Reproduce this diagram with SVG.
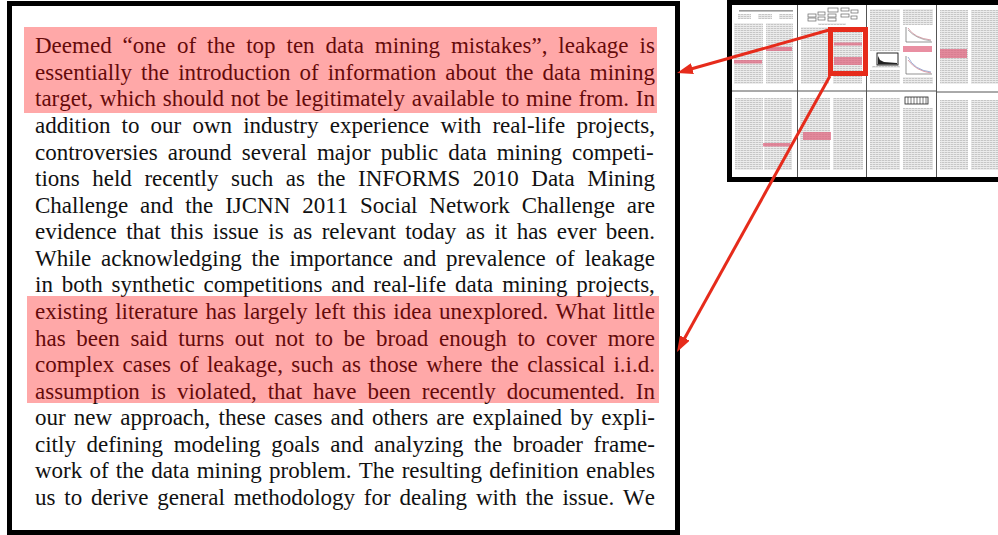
<svg xmlns="http://www.w3.org/2000/svg" width="998" height="535" viewBox="0 0 998 535">
<style>
.t{font-family:"Liberation Serif","Times New Roman",serif;font-size:23px;fill:#111;font-kerning:none;}
.hl{fill:#ff0000;fill-opacity:0.34;}
.frame{fill:none;stroke:#000;stroke-width:5;}
.txt{fill:url(#lines);}
.pk{fill:#e0607a;fill-opacity:0.7;}
.div{stroke:#555;stroke-width:1;}
.fig{fill:none;stroke:#666;stroke-width:0.7;}
.arrow{stroke:#e62b1b;stroke-width:3;fill:none;marker-end:url(#ah);}
</style>
<defs>
<pattern id="lines" width="3" height="2" patternUnits="userSpaceOnUse">
<rect width="3" height="2" fill="#ececec"/>
<rect width="2.4" height="1" fill="#c6c6c6"/>
</pattern>
<marker id="ah" viewBox="0 0 16 11" refX="8" refY="5.5" markerWidth="16" markerHeight="11" markerUnits="userSpaceOnUse" orient="auto">
<path d="M0,0 L16,5.5 L0,11 z" fill="#e62b1b"/>
</marker>
</defs>
<rect width="998" height="535" fill="#fff"/>

<g id="text-panel">
<rect class="frame" x="9.5" y="3.5" width="668" height="529"/>
<text class="t" x="35" y="53.3" style="word-spacing:5.21px">Deemed “one of the top ten data mining mistakes”, leakage is</text>
<text class="t" x="35" y="79.9" style="word-spacing:3.24px">essentially the introduction of information about the data mining</text>
<text class="t" x="35" y="106.4" style="word-spacing:0.93px">target, which should not be legitimately available to mine from. In</text>
<text class="t" x="35" y="133" style="word-spacing:5.4px">addition to our own industry experience with real-life projects,</text>
<text class="t" x="35" y="159.6" style="word-spacing:4.36px">controversies around several major public data mining competi-</text>
<text class="t" x="35" y="186.2" style="word-spacing:6.78px">tions held recently such as the INFORMS 2010 Data Mining</text>
<text class="t" x="35" y="212.7" style="word-spacing:6.11px">Challenge and the IJCNN 2011 Social Network Challenge are</text>
<text class="t" x="35" y="239.3" style="word-spacing:3.71px">evidence that this issue is as relevant today as it has ever been.</text>
<text class="t" x="35" y="265.9" style="word-spacing:4.17px">While acknowledging the importance and prevalence of leakage</text>
<text class="t" x="35" y="292.4" style="word-spacing:3.15px">in both synthetic competitions and real-life data mining projects,</text>
<text class="t" x="35" y="319" style="word-spacing:1.6px">existing literature has largely left this idea unexplored. What little</text>
<text class="t" x="35" y="345.6" style="word-spacing:4.93px">has been said turns out not to be broad enough to cover more</text>
<text class="t" x="35" y="372.1" style="word-spacing:2.6px">complex cases of leakage, such as those where the classical i.i.d.</text>
<text class="t" x="35" y="398.7" style="word-spacing:5.16px">assumption is violated, that have been recently documented. In</text>
<text class="t" x="35" y="425.3" style="word-spacing:2.41px">our new approach, these cases and others are explained by expli-</text>
<text class="t" x="35" y="451.9" style="word-spacing:4.84px">citly defining modeling goals and analyzing the broader frame-</text>
<text class="t" x="35" y="478.4" style="word-spacing:1.46px">work of the data mining problem. The resulting definition enables</text>
<text class="t" x="35" y="505" style="word-spacing:3.04px">us to derive general methodology for dealing with the issue. We</text>
<rect class="hl" x="24" y="27" width="633" height="86"/>
<rect class="hl" x="27" y="296" width="632" height="107"/>
</g>

<g id="thumbnail">
<rect x="729.5" y="2.5" width="300" height="177" fill="#fff"/>
<!-- page 1 -->
<rect x="739" y="10" width="54" height="1.6" fill="#9a9a9a"/>
<rect class="txt" x="738" y="14" width="13" height="5"/>
<rect class="txt" x="758" y="14" width="14" height="5"/>
<rect class="txt" x="779" y="14" width="14" height="5"/>
<rect class="txt" x="734" y="23" width="29" height="61"/>
<rect class="txt" x="766" y="23" width="27" height="61"/>
<rect class="pk" x="734" y="60" width="28" height="3.5"/>
<rect class="pk" x="766" y="47" width="26" height="4"/>
<!-- page 2 -->
<g class="fig">
<rect x="808" y="14" width="8" height="3"/><rect x="808" y="18" width="8" height="3"/>
<rect x="818" y="12" width="7" height="3"/><rect x="818" y="17" width="7" height="3"/>
<rect x="828" y="8" width="10" height="4"/><rect x="828" y="14" width="8" height="3"/><rect x="828" y="18" width="8" height="3"/>
<rect x="841" y="8" width="8" height="3"/><rect x="841" y="14" width="8" height="3"/>
<rect x="851" y="10" width="7" height="3"/><rect x="851" y="16" width="6" height="3"/>
</g>
<rect class="txt" x="818" y="23" width="28" height="2"/>
<rect class="txt" x="801" y="27" width="28" height="57"/>
<rect class="txt" x="833" y="27" width="29" height="57"/>
<rect class="pk" x="834" y="42.5" width="28" height="3"/>
<rect class="pk" x="834" y="57" width="28" height="8"/>
<!-- page 3 -->
<rect class="txt" x="870" y="9" width="30" height="42"/>
<rect x="877" y="53" width="21" height="12" fill="#fff" stroke="#111" stroke-width="0.9"/>
<path d="M878,56 L880,60 L884,62 L897,63 L897,64.5 L878,64.5 z" fill="#222"/>
<rect class="txt" x="872" y="66" width="28" height="2"/>
<rect class="txt" x="870" y="70" width="30" height="14"/>
<rect class="txt" x="903" y="9" width="30" height="16"/>
<path d="M906,27 L906,42 L932,42" class="fig"/>
<path d="M908,28 Q914,38 931,40" fill="none" stroke="#c06070" stroke-width="0.6"/>
<path d="M908,30 Q916,39 931,41" fill="none" stroke="#888" stroke-width="0.6"/>
<rect class="pk" x="903" y="46" width="29" height="6"/>
<path d="M906,56 L906,74 L932,74" class="fig"/>
<path d="M908,57 Q914,70 931,72" fill="none" stroke="#6080c0" stroke-width="0.6"/>
<path d="M908,60 Q916,71 931,73" fill="none" stroke="#c06070" stroke-width="0.6"/>
<rect class="txt" x="903" y="77" width="30" height="7"/>
<!-- page 4 -->
<rect class="txt" x="940" y="10" width="28" height="74"/>
<rect class="txt" x="971" y="10" width="27" height="74"/>
<rect class="pk" x="940" y="49" width="27" height="9"/>
<!-- page 5 -->
<rect class="txt" x="735" y="98" width="28" height="72"/>
<rect class="txt" x="764" y="98" width="28" height="72"/>
<rect class="pk" x="763" y="143" width="27" height="3.5"/>
<!-- page 6 -->
<rect class="txt" x="800" y="98" width="30" height="72"/>
<rect class="txt" x="833" y="98" width="30" height="72"/>
<rect class="pk" x="803" y="132" width="28" height="8"/>
<!-- page 7 -->
<rect class="txt" x="870" y="98" width="30" height="72"/>
<rect x="905" y="97" width="23" height="7" fill="#fff" stroke="#222" stroke-width="0.8"/>
<path d="M908,97 V104 M911,97 V104 M914,97 V104 M917,97 V104 M920,97 V104 M923,97 V104 M926,97 V104" stroke="#222" stroke-width="0.6"/>
<rect class="txt" x="903" y="108" width="30" height="62"/>
<!-- page 8 -->
<rect class="txt" x="940" y="100" width="28" height="70"/>
<rect class="txt" x="971" y="100" width="27" height="70"/>
<!-- page dividers -->
<path class="div" d="M797.5,5 V177 M866.5,5 V177 M936.5,5 V177 M732,91 H936 M936,92 H998"/>
<rect class="frame" x="729.5" y="2.5" width="300" height="177" stroke-width="5.5"/>
<rect x="830.5" y="29.5" width="35" height="44" fill="none" stroke="#e62b1b" stroke-width="5"/>
</g>

<g id="connectors">
<line class="arrow" x1="829" y1="30" x2="684.7" y2="70.8"/>
<line class="arrow" x1="830" y1="76" x2="680.9" y2="345"/>
</g>
</svg>
